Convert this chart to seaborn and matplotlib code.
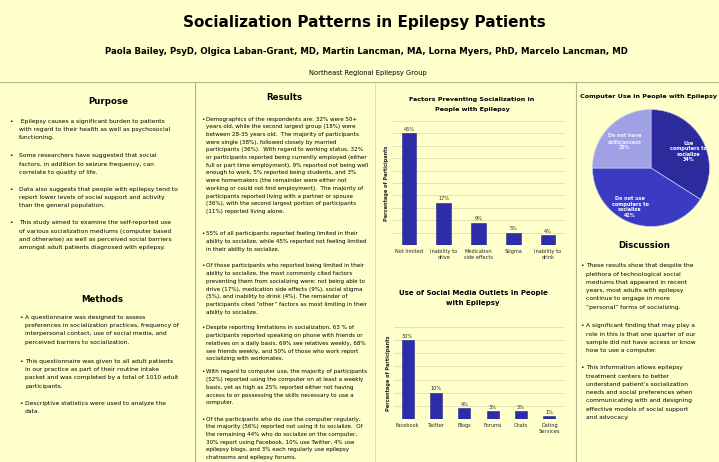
import matplotlib
matplotlib.use("Agg")
import matplotlib.pyplot as plt
import numpy as np
import pandas as pd
import seaborn as sns
from matplotlib.lines import Line2D

# poster canvas in pixels
W, H = 719, 462
BG = "#FFFFCC"
BAR = "#2D2DAA"
RULE = "#B4B48C"
GRID = "#E2E2B2"

factor_labels = ["Not limited", "Inability to\ndrive", "Medication\nside effects", "Stigma", "Inability to\ndrink"]
factor_values = [45, 17, 9, 5, 4]

media_labels = ["Facebook", "Twitter", "Blogs", "Forums", "Chats", "Dating\nServices"]
media_values = [30, 10, 4, 3, 3, 1]

pie_labels = ["Use\ncomputers to\nsocialize", "Do not use\ncomputers to\nsocialize", "Do not have\nskills/access"]
pie_values = [34, 41, 25]
pie_colors = ["#2B2B9E", "#3A3AC2", "#A0A0E4"]

purpose_items = [
    (121, [" Epilepsy causes a significant burden to patients",
           "with regard to their health as well as psychosocial",
           "functioning."]),
    (156, ["Some researchers have suggested that social",
           "factors, in addition to seizure frequency, can",
           "correlate to quality of life."]),
    (189, ["Data also suggests that people with epilepsy tend to",
           "report lower levels of social support and activity",
           "than the general population."]),
    (223, ["This study aimed to examine the self-reported use",
           "of various socialization mediums (computer based",
           "and otherwise) as well as perceived social barriers",
           "amongst adult patients diagnosed with epilepsy."]),
]

methods_items = [
    (317, ["A questionnaire was designed to assess",
           "preferences in socialization practices, frequency of",
           "interpersonal contact, use of social media, and",
           "perceived barriers to socialization."]),
    (361, ["This questionnaire was given to all adult patients",
           "in our practice as part of their routine intake",
           "packet and was completed by a total of 1010 adult",
           "participants."]),
    (403, ["Descriptive statistics were used to analyze the",
           "data."]),
]

results_items = [
    (119, ["Demographics of the respondents are: 32% were 50+",
           "years old, while the second largest group (18%) were",
           "between 28-35 years old.  The majority of participants",
           "were single (38%), followed closely by married",
           "participants (36%).  With regard to working status, 32%",
           "or participants reported being currently employed (either",
           "full or part time employment), 9% reported not being well",
           "enough to work, 5% reported being students, and 3%",
           "were homemakers (the remainder were either not",
           "working or could not find employment).  The majority of",
           "participants reported living with a partner or spouse",
           "(36%), with the second largest portion of participants",
           "(11%) reported living alone."]),
    (234, ["55% of all participants reported feeling limited in their",
           "ability to socialize, while 45% reported not feeling limited",
           "in their ability to socialize."]),
    (266, ["Of those participants who reported being limited in their",
           "ability to socialize, the most commonly cited factors",
           "preventing them from socializing were: not being able to",
           "drive (17%), medication side effects (9%), social stigma",
           "(5%), and inability to drink (4%). The remainder of",
           "participants cited \u201cother\u201d factors as most limiting in their",
           "ability to socialize."]),
    (328, ["Despite reporting limitations in socialization, 63 % of",
           "participants reported speaking on phone with friends or",
           "relatives on a daily basis, 69% see relatives weekly, 68%",
           "see friends weekly, and 50% of those who work report",
           "socializing with workmates."]),
    (372, ["With regard to computer use, the majority of participants",
           "(52%) reported using the computer on at least a weekly",
           "basis, yet as high as 25% reported either not having",
           "access to or possessing the skills necessary to use a",
           "computer."]),
    (419, ["Of the participants who do use the computer regularly,",
           "the majority (56%) reported not using it to socialize.  Of",
           "the remaining 44% who do socialize on the computer,",
           "30% report using Facebook, 10% use Twitter, 4% use",
           "epilepsy blogs, and 3% each regularly use epilepsy",
           "chatrooms and epilepsy forums."]),
]

discussion_items = [
    (266, ["These results show that despite the",
           "plethora of technological social",
           "mediums that appeared in recent",
           "years, most adults with epilepsy",
           "continue to engage in more",
           "\u201cpersonal\u201d forms of socializing."]),
    (326, ["A significant finding that may play a",
           "role in this is that one quarter of our",
           "sample did not have access or know",
           "how to use a computer."]),
    (368, ["This information allows epilepsy",
           "treatment centers to better",
           "understand patient\u2019s socialization",
           "needs and social preferences when",
           "communicating with and designing",
           "effective models of social support",
           "and advocacy."]),
]

sns.set_style("white")
plt.rcParams["font.family"] = ["DejaVu Sans"]

fig = plt.figure(figsize=(W / 100, H / 100), dpi=100, facecolor=BG)


def fx(x):
    return x / W


def fy(y):
    return 1 - y / H


def put(x, y, s, size, weight="normal", ha="left", color="black"):
    fig.text(fx(x), fy(y), s, fontsize=size, fontweight=weight, ha=ha, va="center", color=color)


def bullets(x_dot, x_text, items, size, step):
    for y0, lines in items:
        put(x_dot, y0, "\u2022", size)
        for i, line in enumerate(lines):
            put(x_text, y0 + i * step, line, size)


def rule(x0, y0, x1, y1, color=RULE, lw=0.8):
    fig.add_artist(Line2D([fx(x0), fx(x1)], [fy(y0), fy(y1)], color=color, lw=lw))


def bar_chart(left, top, right, bottom, labels, values, ymax, tick_size, bar_width):
    ax = fig.add_axes([fx(left), fy(bottom), (right - left) / W, (bottom - top) / H])
    ax.set_facecolor(BG)
    df = pd.DataFrame({"label": labels, "value": values})
    sns.barplot(data=df, x="label", y="value", color=BAR, saturation=1, width=bar_width, ax=ax,
                edgecolor="#24248A", linewidth=0.4)
    ax.set_ylim(0, ymax)
    ax.set_yticks(np.arange(0, ymax + 1, 5))
    ax.yaxis.grid(True, color=GRID, lw=0.7)
    ax.set_axisbelow(True)
    ax.tick_params(axis="y", length=0, labelleft=False)
    ax.tick_params(axis="x", length=0, labelsize=tick_size, pad=3)
    for s in ax.spines.values():
        s.set_visible(False)
    ax.bar_label(ax.containers[0], fmt="%d%%", fontsize=tick_size, padding=1)
    ax.set_xlabel("")
    ax.set_ylabel("Percentage of Participants", fontsize=tick_size, fontweight="bold", labelpad=2)
    return ax


# header
put(364, 22, "Socialization Patterns in Epilepsy Patients", 11, "bold", "center")
put(366, 52, "Paola Bailey, PsyD, Olgica Laban-Grant, MD, Martin Lancman, MA, Lorna Myers, PhD, Marcelo Lancman, MD",
    6.2, "bold", "center")
put(368, 73, "Northeast Regional Epilepsy Group", 4.9, "normal", "center")

rule(0, 82, W, 82)
rule(195, 82, 195, H)
rule(576, 82, 576, H)
rule(375, 82, 375, H, color="#D8D8B0", lw=0.6)

# left column
put(108, 102, "Purpose", 6.2, "bold", "center")
bullets(9, 19, purpose_items, 4.3, 8.3)
put(102, 300, "Methods", 6.2, "bold", "center")
bullets(19, 25, methods_items, 4.3, 8.4)

# results column
put(284, 98, "Results", 6.2, "bold", "center")
bullets(201, 206, results_items, 4.1, 7.7)

# charts column
put(472, 100, "Factors Preventing Socialization in", 4.6, "bold", "center")
put(472, 109, "People with Epilepsy", 4.6, "bold", "center")
bar_chart(391.6, 121, 565.4, 245, factor_labels, factor_values, 50, 3.6, 0.42)

put(473, 293, "Use of Social Media Outlets in People", 5.0, "bold", "center")
put(473, 303, "with Epilepsy", 5.0, "bold", "center")
bar_chart(393.5, 327, 563.5, 419, media_labels, media_values, 35, 3.6, 0.42)

# right column
put(649, 96, "Computer Use in People with Epilepsy", 4.6, "bold", "center")
r = 58.5
pax = fig.add_axes([fx(651 - r), fy(168 + r), 2 * r / W, 2 * r / H])
pie_text = [f"{lab}\n{v}%" for lab, v in zip(pie_labels, pie_values)]
wedges, texts = pax.pie(pie_values, labels=pie_text, colors=pie_colors, startangle=90, counterclock=False,
                        labeldistance=0.66, wedgeprops=dict(edgecolor="#C8C8F0", linewidth=0.5),
                        textprops=dict(color="white", fontsize=3.5, fontweight="bold", ha="center",
                                       va="center", linespacing=1.15))
# nudge labels to where the poster put them
label_r = [0.70, 0.76, 0.64]
label_shift = [-5, -12, 0]
for w, t, lr, sh in zip(wedges, texts, label_r, label_shift):
    ang = np.deg2rad((w.theta1 + w.theta2) / 2 + sh)
    t.set_position((lr * np.cos(ang), lr * np.sin(ang)))
    t.set_ha("center")
texts[2].set_color("#F0F0FF")
pax.set_xlim(-1, 1)
pax.set_ylim(-1, 1)
pax.set_aspect("equal")

put(644, 245, "Discussion", 6.2, "bold", "center")
bullets(580, 586, discussion_items, 4.3, 8.2)

fig.savefig("out.png", dpi=100, facecolor=BG)
